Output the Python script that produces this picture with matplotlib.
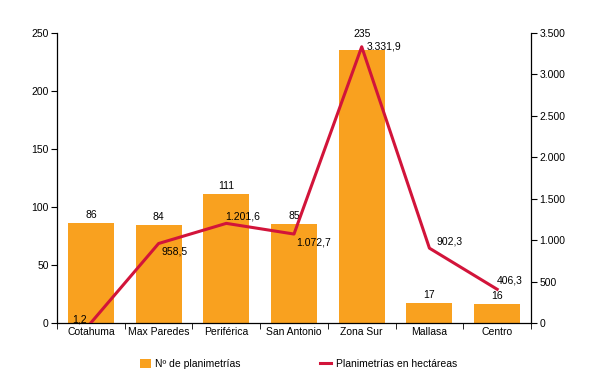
import matplotlib
matplotlib.use("Agg")
import matplotlib.pyplot as plt
import numpy as np

categories = ["Cotahuma", "Max Paredes", "Periférica", "San Antonio", "Zona Sur", "Mallasa", "Centro"]
num_planimetrias = [86, 84, 111, 85, 235, 17, 16]
hectareas = [1.2, 958.5, 1201.6, 1072.7, 3331.9, 902.3, 406.3]
hect_labels = ["1,2", "958,5", "1.201,6", "1.072,7", "3.331,9", "902,3", "406,3"]
left_ticks = [0, 50, 100, 150, 200, 250]
right_ticks = [0, 500, 1000, 1500, 2000, 2500, 3000, 3500]
right_tick_labels = ["0", "500", "1.000", "1.500", "2.000", "2.500", "3.000", "3.500"]

plt.rcParams['font.family'] = ['Liberation Sans', 'DejaVu Sans']
fs = 7.5

bar_color = "#F9A11F"
line_color = "#D2143A"

fig = plt.figure(figsize=(6, 3.91), dpi=100)
ax = fig.add_axes([0.095, 0.174, 0.79, 0.742])
x = np.arange(len(categories))
bars = ax.bar(x, num_planimetrias, width=0.68, color=bar_color, label="Nº de planimetrías", zorder=2)
ax.set_xlim(-0.5, len(categories) - 0.5)
ax.set_ylim(0, 250)
ax.set_yticks(left_ticks)
ax.set_yticklabels([str(t) for t in left_ticks], fontsize=fs)
ax.set_xticks(x)
ax.set_xticklabels(categories, fontsize=fs)
ax.tick_params(axis='x', which='major', length=0, pad=3)
ax.set_xticks(np.arange(-0.5, len(categories), 1.0), minor=True)
ax.tick_params(axis='x', which='minor', length=4, direction='out')
ax.tick_params(axis='y', length=4, direction='out', pad=2)
for s in ['top', 'right']:
    ax.spines[s].set_visible(False)
ax.spines['bottom'].set_linewidth(0.9)
ax.spines['left'].set_linewidth(0.9)

bar_dy = [3, 3, 3, 3, 10, 3, 3]
for xi, v, d in zip(x, num_planimetrias, bar_dy):
    ax.text(xi, v + d, str(v), ha='center', va='bottom', fontsize=fs)

ax2 = ax.twinx()
ax2.set_ylim(0, 3500)
ax2.set_yticks(right_ticks)
ax2.set_yticklabels(right_tick_labels, fontsize=fs)
ax2.tick_params(axis='y', length=4, direction='out', pad=2)
for s in ['top', 'left', 'bottom']:
    ax2.spines[s].set_visible(False)
ax2.spines['right'].set_linewidth(0.9)
ax2.plot(x, hectareas, color=line_color, lw=2.2, label="Planimetrías en hectáreas", zorder=3)

offsets = [(-0.17, 40, 'center', 'center'),
           (0.05, -40, 'left', 'top'),
           (-0.02, 20, 'left', 'bottom'),
           (0.03, -40, 'left', 'top'),
           (0.08, 0, 'left', 'center'),
           (0.1, 20, 'left', 'bottom'),
           (0.0, 50, 'left', 'bottom')]
for xi, v, lab, (dx, dy, ha, va) in zip(x, hectareas, hect_labels, offsets):
    ax2.text(xi + dx, v + dy, lab, ha=ha, va=va, fontsize=fs)

h1, l1 = ax.get_legend_handles_labels()
h2, l2 = ax2.get_legend_handles_labels()
leg = fig.legend(h1 + h2, l1 + l2, loc='center', bbox_to_anchor=(0.497, 0.07), ncol=2,
                 frameon=False, fontsize=fs, columnspacing=7.6, handlelength=1.1,
                 handleheight=1.0, handletextpad=0.4)

fig.savefig("out.png", dpi=100)
